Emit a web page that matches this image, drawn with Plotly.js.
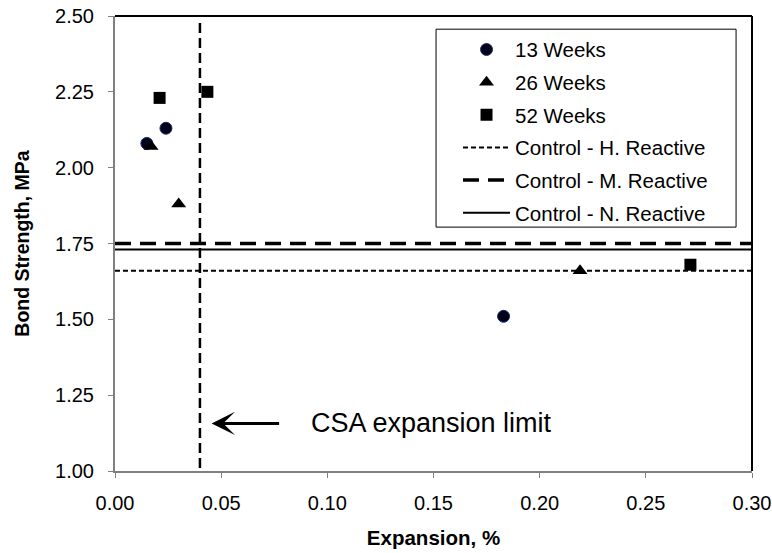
<!DOCTYPE html>
<html>
<head>
<meta charset="utf-8">
<script src="https://cdn.plot.ly/plotly-3.0.1.min.js"></script>
<style>html,body{margin:0;padding:0;background:#fff;}#chart{width:772px;height:553px;}</style>
</head>
<body>
<div id="chart"></div>
<script>
// Data
var w13X = [0.015, 0.024, 0.183];
var w13Y = [2.08, 2.13, 1.51];
var w26X = [0.017, 0.030, 0.219];
var w26Y = [2.07, 1.88, 1.66];
var w52X = [0.021, 0.0435, 0.271];
var w52Y = [2.23, 2.25, 1.68];
var ctrlX = [0, 0.30];
var ctrlH = [1.66, 1.66];
var ctrlM = [1.75, 1.75];
var ctrlN = [1.73, 1.73];
var csaX = [0.04, 0.04];
var csaY = [1.01, 2.49];
var xTicks = [0, 0.05, 0.10, 0.15, 0.20, 0.25, 0.30];
var yTicks = [1.00, 1.25, 1.50, 1.75, 2.00, 2.25, 2.50];
var arrowPoint = {x: 0.0455, y: 1.157};
var csaLabel = {x: 0.0915, y: 1.157, text: 'CSA expansion limit'};

var FONT = 'Liberation Sans, Arial, sans-serif';

var traces = [
  {x: w13X, y: w13Y, mode: 'markers', type: 'scatter', name: '13 Weeks', legendgroup: 'a',
   marker: {symbol: 'circle', size: 12, color: '#000018', line: {color: '#1c2f6e', width: 1}}},
  {x: w26X, y: w26Y, mode: 'markers', type: 'scatter', name: '26 Weeks', legendgroup: 'b',
   marker: {symbol: 'triangle-up', size: 13, color: '#000000'}},
  {x: w52X, y: w52Y, mode: 'markers', type: 'scatter', name: '52 Weeks', legendgroup: 'c',
   marker: {symbol: 'square', size: 12, color: '#000000'}},
  {x: ctrlX, y: ctrlH, mode: 'lines', type: 'scatter', name: 'Control - H. Reactive', legendgroup: 'd',
   line: {color: '#000000', width: 2, dash: '5px,3px'}},
  {x: ctrlX, y: ctrlM, mode: 'lines', type: 'scatter', name: 'Control - M. Reactive', legendgroup: 'e',
   line: {color: '#000000', width: 3.5, dash: '16px,9px'}},
  {x: ctrlX, y: ctrlN, mode: 'lines', type: 'scatter', name: 'Control - N. Reactive', legendgroup: 'f',
   line: {color: '#000000', width: 2}},
  {x: csaX, y: csaY, mode: 'lines', type: 'scatter', name: 'CSA limit', showlegend: false,
   line: {color: '#000000', width: 2.5, dash: '10px,5px'}}
];

var layout = {
  width: 772, height: 553,
  margin: {l: 115, r: 20, t: 16, b: 82},
  paper_bgcolor: '#ffffff', plot_bgcolor: '#ffffff',
  font: {family: FONT, size: 20, color: '#000000'},
  showlegend: true,
  legend: {
    x: 0.5385, y: 0.97, xanchor: 'left', yanchor: 'top',
    bgcolor: 'rgba(0,0,0,0)', borderwidth: 0,
    font: {family: FONT, size: 20.5, color: '#000000'},
    itemwidth: 47, tracegroupgap: 3
  },
  xaxis: {
    range: [0, 0.30], tickmode: 'array', tickvals: xTicks, tickformat: '.2f',
    showgrid: false, zeroline: false, showline: true, linecolor: '#808080', linewidth: 2,
    ticks: 'outside', ticklen: 5, tickwidth: 1, tickcolor: '#808080',
    ticklabelstandoff: 8,
    tickfont: {family: FONT, size: 20, color: '#000000'},
    title: {text: '<b>Expansion, %</b>', font: {family: FONT, size: 20.5, color: '#000000'}, standoff: 18}
  },
  yaxis: {
    range: [1.0, 2.5], tickmode: 'array', tickvals: yTicks, tickformat: '.2f',
    showgrid: false, zeroline: false, showline: true, linecolor: '#808080', linewidth: 2,
    ticks: 'outside', ticklen: 5, tickwidth: 1, tickcolor: '#808080',
    ticklabelstandoff: 10,
    tickfont: {family: FONT, size: 20, color: '#000000'},
    title: {text: '<b>Bond Strength, MPa</b>', font: {family: FONT, size: 19.5, color: '#000000'}, standoff: 20}
  },
  shapes: [
    {type: 'line', xref: 'paper', yref: 'paper', x0: 0, x1: 1, y0: 1, y1: 1, line: {color: '#000000', width: 2}},
    {type: 'line', xref: 'paper', yref: 'paper', x0: 1, x1: 1, y0: 0, y1: 1, line: {color: '#000000', width: 2}},
    {type: 'rect', xref: 'paper', yref: 'paper', x0: 0.504, x1: 0.975, y0: 0.536, y1: 0.971,
     fillcolor: '#ffffff', line: {color: '#000000', width: 1}, layer: 'above'}
  ],
  annotations: [
    {x: arrowPoint.x, y: arrowPoint.y, xref: 'x', yref: 'y', ax: 69, ay: 0, text: '',
     showarrow: true, arrowhead: 3, arrowsize: 1.3, arrowwidth: 3, arrowcolor: '#000000'},
    {x: csaLabel.x, y: csaLabel.y, xref: 'x', yref: 'y', text: csaLabel.text, showarrow: false,
     xanchor: 'left', yanchor: 'middle', font: {family: FONT, size: 27, color: '#000000'}}
  ]
};

Plotly.newPlot('chart', traces, layout, {displayModeBar: false, staticPlot: true});
</script>
</body>
</html>
